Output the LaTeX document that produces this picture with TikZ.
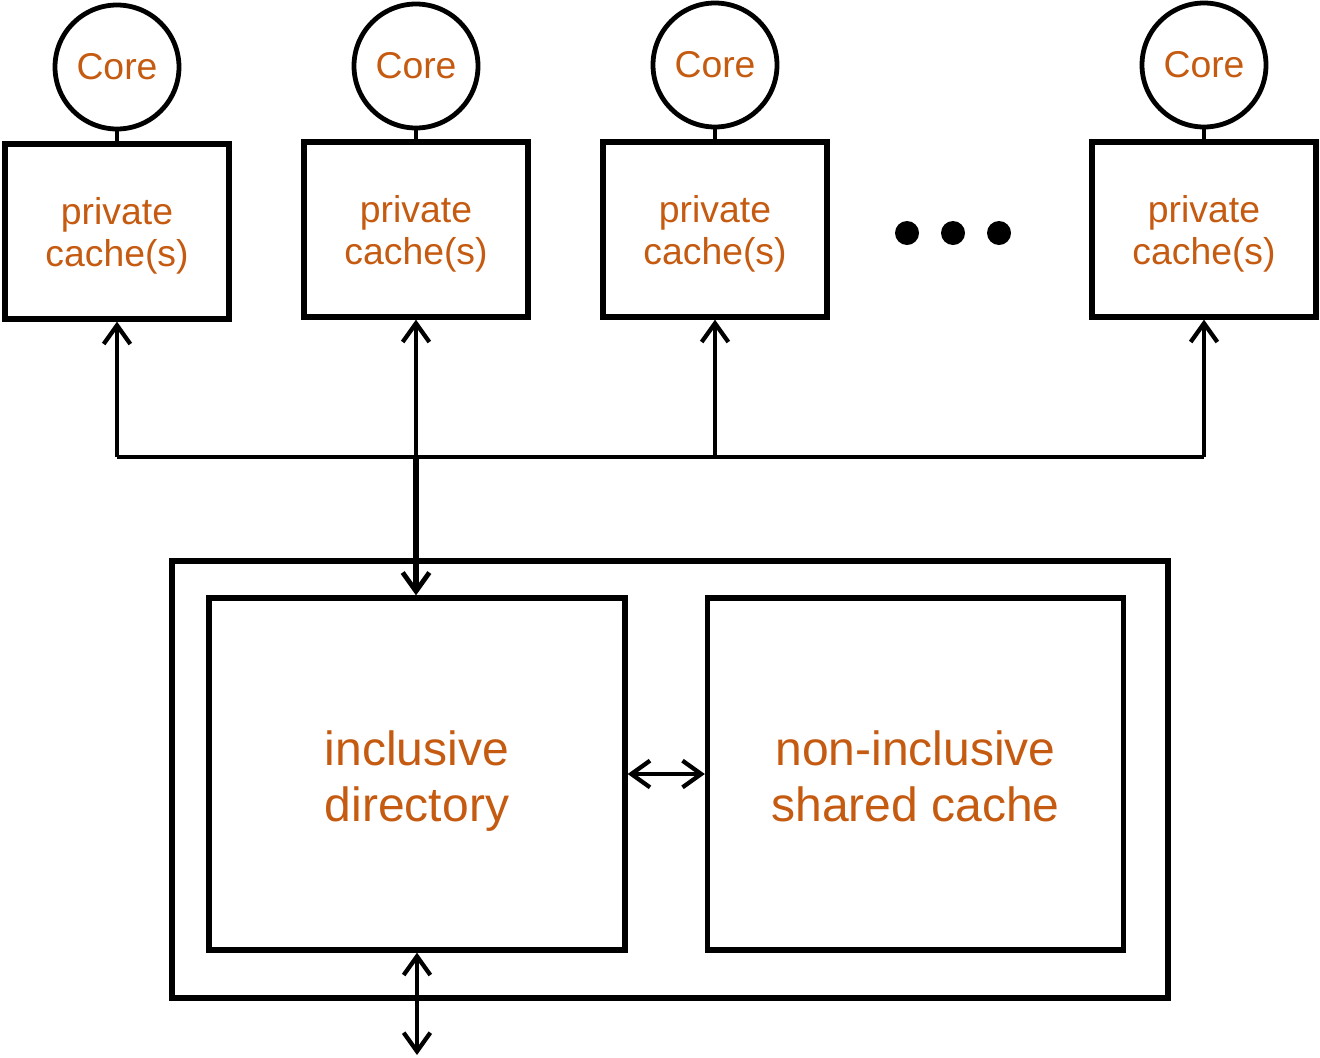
\documentclass[tikz,border=0pt]{standalone}
\usepackage{fontspec}
\setmainfont{Liberation Sans}
\usetikzlibrary{arrows.meta}
\definecolor{txtorange}{HTML}{C55A11}
\newcommand{\lbl}[2]{\raisebox{-#1}[\height][\depth]{\begin{tabular}{@{}c@{}}#2\end{tabular}}}
\tikzset{
  px/.style={x=0.75pt,y=-0.75pt},
  corec/.style={circle,draw,line width=3.6pt,minimum size=93pt,inner sep=0pt,
    text=txtorange,font=\fontsize{28}{31.5}\selectfont},
  pbox/.style={rectangle,draw,line width=4pt,minimum width=168pt,minimum height=131.25pt,
    inner sep=0pt,text=txtorange,font=\fontsize{28}{31.5}\selectfont},
  bigbox/.style={rectangle,draw,line width=4pt,minimum width=312pt,minimum height=264pt,
    inner sep=0pt,text=txtorange,font=\fontsize{36}{42}\selectfont},
  outerbox/.style={rectangle,draw,line width=4pt,minimum width=747pt,minimum height=327.75pt,inner sep=0pt},
  dotn/.style={circle,fill,minimum size=18pt,inner sep=0pt},
  link/.style={line width=3pt},
  arr/.style={line width=3pt,-{Straight Barb[length=14pt,width=20pt,line width=3.2pt]}},
  darr/.style={line width=3pt,{Straight Barb[length=14pt,width=20pt,line width=3.2pt]}-{Straight Barb[length=14pt,width=20pt,line width=3.2pt]}},
}
\begin{document}
\begin{tikzpicture}[px]
\useasboundingbox (0,0) rectangle (1320,1057);
% cores
\node[corec] (c1) at (117,67) {Core};
\node[corec] (c2) at (416,66) {Core};
\node[corec] (c3) at (715,65) {Core};
\node[corec] (c4) at (1204,65) {Core};
% private caches
\node[pbox] (p1) at (117,231.5) {\lbl{4pt}{private\\cache(s)}};
\node[pbox] (p2) at (416,229.5) {\lbl{4pt}{private\\cache(s)}};
\node[pbox] (p3) at (715,229.5) {\lbl{4pt}{private\\cache(s)}};
\node[pbox] (p4) at (1204,229.5) {\lbl{4pt}{private\\cache(s)}};
% dots
\node[dotn] (d1) at (907,233) {};
\node[dotn] (d2) at (953,233) {};
\node[dotn] (d3) at (999,233) {};
% core to cache
\foreach \i in {1,2,3,4} \draw[link] (c\i.south) -- (p\i.north);
% bus
\coordinate (b1) at (117,457);
\coordinate (b2) at (416,457);
\coordinate (b3) at (715,457);
\coordinate (b4) at (1204,457);
\draw[line width=2.6pt] (b1) -- (b4);
\foreach \i in {1,2,3,4} \draw[arr] (b\i) -- (p\i.south);
% lower part
\node[outerbox] (outer) at (670,779.5) {};
\node[bigbox] (dir) at (417,774) {\lbl{6.5pt}{inclusive\\directory}};
\node[bigbox] (sh) at (915.5,774) {\lbl{6pt}{non-inclusive\\shared cache}};
\draw[line width=4pt,-{Straight Barb[length=14pt,width=20pt,line width=3.6pt]}] (b2) -- (b2 |- dir.north);
\draw[darr] (dir.east) -- (sh.west);
\coordinate (out) at (417,1055);
\draw[darr] (dir.south) -- (out);
\end{tikzpicture}
\end{document}
